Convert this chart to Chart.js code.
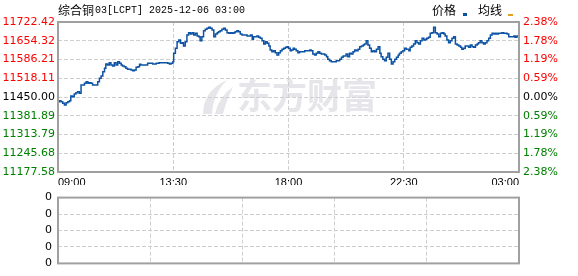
<!DOCTYPE html>
<html>
<head>
<meta charset="utf-8">
<script src="https://cdn.jsdelivr.net/npm/chart.js@4/dist/chart.umd.min.js"></script>
<style>
  body { margin: 0; background: #fff; }
  #wrap { position: relative; width: 578px; height: 276px; }
  canvas { position: absolute; left: 0; }
  #main { top: 0; }
  #vol { top: 185px; }
</style>
</head>
<body>
<div id="wrap">
  <canvas id="main" width="578" height="195"></canvas>
  <canvas id="vol" width="578" height="91"></canvas>
</div>
<script>
// axis labels
const timeTicks = [0, 270, 540, 810, 1080];
const timeLabels = ['09:00', '13:30', '18:00', '22:30', '03:00'];
const priceTicks = [11722.42, 11654.32, 11586.21, 11518.11, 11450.00, 11381.89, 11313.79, 11245.68, 11177.58];
const pctLabels = ['2.38%', '1.78%', '1.19%', '0.59%', '0.00%', '0.59%', '1.19%', '1.78%', '2.38%'];
const prevClose = 11450.00;
const volTicks = [0, 1, 2, 3, 4];

// minutes after 09:00, price
const minutes = [
  0, 3, 7, 11, 15, 19, 23, 27, 30, 34, 38, 42, 46, 50, 54, 58, 62, 66, 70, 73,
  77, 81, 85, 89, 93, 97, 101, 105, 109, 112, 116, 120, 124, 128, 132, 136, 140, 144, 148, 151,
  155, 159, 163, 167, 171, 175, 179, 183, 187, 191, 194, 198, 206, 210, 218, 222, 230, 237, 245, 253,
  257, 261, 265, 269, 271, 275, 279, 283, 287, 291, 294, 298, 302, 306, 310, 314, 318, 322, 326, 330,
  333, 337, 341, 345, 349, 353, 357, 361, 365, 369, 373, 376, 380, 384, 388, 392, 396, 400, 404, 408,
  412, 415, 419, 423, 427, 431, 435, 439, 443, 447, 451, 455, 458, 462, 466, 470, 474, 478, 482, 486,
  490, 494, 497, 501, 505, 509, 513, 517, 521, 525, 529, 533, 537, 540, 544, 547, 551, 554, 558, 562,
  566, 570, 574, 578, 582, 586, 590, 593, 597, 601, 605, 609, 613, 617, 621, 625, 629, 632, 636, 640,
  644, 648, 652, 656, 660, 664, 668, 672, 675, 679, 683, 687, 691, 695, 699, 703, 707, 711, 715, 718,
  722, 726, 730, 734, 738, 742, 746, 750, 754, 757, 761, 765, 769, 773, 777, 781, 785, 789, 793, 797,
  800, 804, 808, 812, 816, 822, 825, 829, 833, 837, 841, 845, 849, 853, 857, 861, 864, 868, 872, 876,
  880, 884, 888, 892, 896, 900, 904, 907, 911, 915, 919, 923, 927, 931, 935, 939, 943, 946, 950, 954,
  958, 962, 966, 970, 974, 978, 982, 985, 989, 993, 997, 1001, 1005, 1009, 1013, 1017, 1021, 1025, 1028, 1032,
  1036, 1040, 1044, 1048, 1052, 1056, 1060, 1064, 1068, 1071, 1075, 1079
];
const prices = [
  11433.1, 11436.7, 11433.1, 11427.0, 11421.0, 11429.4, 11433.1, 11436.7, 11453.6, 11451.2, 11460.9, 11465.8, 11469.4, 11463.3, 11493.6, 11493.6, 11499.7, 11505.7, 11499.7, 11502.1,
  11499.7, 11493.6, 11493.6, 11493.6, 11505.7, 11517.8, 11526.3, 11542.0, 11554.1, 11569.9, 11566.2, 11574.7, 11566.2, 11562.6, 11574.7, 11566.2, 11578.4, 11572.3, 11566.2, 11562.6,
  11560.2, 11554.1, 11550.5, 11550.5, 11548.1, 11545.7, 11548.1, 11557.8, 11560.2, 11568.7, 11566.2, 11566.2, 11566.2, 11572.3, 11572.3, 11569.9, 11572.3, 11574.7, 11574.7, 11574.7,
  11572.3, 11569.9, 11572.3, 11578.4, 11608.6, 11626.8, 11651.0, 11657.1, 11644.9, 11647.4, 11635.3, 11651.0, 11675.2, 11683.7, 11678.8, 11683.7, 11675.2, 11681.3, 11671.6, 11669.2,
  11654.6, 11669.2, 11691.0, 11695.8, 11699.4, 11703.1, 11699.4, 11693.4, 11669.2, 11678.8, 11683.7, 11687.3, 11691.0, 11695.8, 11699.4, 11693.4, 11683.7, 11681.3, 11683.7, 11681.3,
  11683.7, 11687.3, 11691.0, 11687.3, 11678.8, 11675.2, 11675.2, 11675.2, 11671.6, 11671.6, 11675.2, 11659.5, 11669.2, 11669.2, 11671.6, 11666.7, 11663.1, 11654.6, 11642.5, 11651.0,
  11644.9, 11635.3, 11620.7, 11614.7, 11618.3, 11611.0, 11602.6, 11611.0, 11618.3, 11623.2, 11626.8, 11630.4, 11632.8, 11626.8, 11618.3, 11620.7, 11626.8, 11623.2, 11618.3, 11611.0,
  11614.7, 11614.7, 11614.7, 11618.3, 11618.3, 11618.3, 11620.7, 11618.3, 11606.2, 11602.6, 11608.6, 11614.7, 11608.6, 11606.2, 11606.2, 11602.6, 11596.5, 11586.8, 11582.0, 11578.4,
  11578.4, 11578.4, 11582.0, 11582.0, 11586.8, 11594.1, 11598.9, 11598.9, 11606.2, 11596.5, 11608.6, 11606.2, 11614.7, 11620.7, 11618.3, 11623.2, 11632.8, 11635.3, 11638.9, 11642.5,
  11654.6, 11638.9, 11626.8, 11614.7, 11618.3, 11614.7, 11623.2, 11632.8, 11608.6, 11596.5, 11586.8, 11582.0, 11594.1, 11608.6, 11586.8, 11569.9, 11578.4, 11586.8, 11594.1, 11602.6,
  11608.6, 11614.7, 11618.3, 11626.8, 11623.2, 11618.3, 11630.4, 11635.3, 11642.5, 11654.6, 11647.4, 11642.5, 11654.6, 11663.1, 11657.1, 11659.5, 11663.1, 11666.7, 11681.3, 11683.7,
  11703.1, 11683.7, 11678.8, 11669.2, 11681.3, 11683.7, 11678.8, 11671.6, 11657.1, 11647.4, 11654.6, 11663.1, 11669.2, 11642.5, 11638.9, 11635.3, 11630.4, 11623.2, 11626.8, 11635.3,
  11635.3, 11630.4, 11638.9, 11632.8, 11630.4, 11638.9, 11642.5, 11647.4, 11654.6, 11647.4, 11642.5, 11647.4, 11654.6, 11663.1, 11675.2, 11681.3, 11678.8, 11681.3, 11678.8, 11681.3,
  11681.3, 11683.7, 11681.3, 11681.3, 11678.8, 11669.2, 11669.2, 11669.2, 11671.6, 11666.7, 11671.6, 11669.2
];

const GRID = '#cfcfcf';
const FRAME = '#a0a0a0';
const tickFont = { family: 'DejaVu Sans', size: 11 };

function fixWidth(w) { return function (scale) { scale.width = w; }; }

// white bg, watermark under the grid, frame + title/legend on top
const decor = {
  id: 'decor',
  beforeDraw(chart, args, opts) {
    const c = chart.ctx;
    c.save();
    c.fillStyle = '#fff';
    c.fillRect(0, 0, chart.width, chart.height);
    if (opts.watermark) {
      c.fillStyle = '#e6e6ea';
      c.beginPath();
      c.moveTo(203, 114);
      c.quadraticCurveTo(203, 91, 227, 80);
      c.quadraticCurveTo(213, 94, 212, 114);
      c.closePath();
      c.fill();
      c.beginPath();
      c.moveTo(215, 114);
      c.quadraticCurveTo(219, 96, 233, 87);
      c.quadraticCurveTo(226, 101, 223, 114);
      c.closePath();
      c.fill();
      c.font = 'bold 35px "Noto Sans CJK SC"';
      c.textBaseline = 'middle';
      c.fillText('东方财富', 237, 96);
    }
    c.restore();
  },
  afterDraw(chart, args, opts) {
    const c = chart.ctx;
    const a = chart.chartArea;
    c.save();
    c.strokeStyle = FRAME;
    c.lineWidth = 2;
    c.strokeRect(a.left, a.top, a.right - a.left, a.bottom - a.top);
    if (opts.header) {
      c.fillStyle = '#000';
      c.textBaseline = 'middle';
      c.font = '12px "Noto Sans CJK SC"';
      c.fillText('综合铜', 58, 10);
      c.font = '10px "Liberation Mono"';
      c.fillText('03[LCPT] 2025-12-06 03:00', 95, 10);
      c.font = '12px "Noto Sans CJK SC"';
      c.fillText('价格', 432, 10);
      c.fillText('均线', 478, 10);
      c.fillStyle = '#0d52a3';
      c.fillRect(463, 13, 4, 3);
      c.fillStyle = '#e0a020';
      c.fillRect(508, 14, 5, 2);
    }
    c.restore();
  }
};

function priceColor(v, i) {
  if (Math.abs(v - prevClose) < 0.01) return '#000';
  return v > prevClose ? '#ff0000' : '#008000';
}

new Chart(document.getElementById('main'), {
  type: 'line',
  data: {
    datasets: [{
      label: '价格',
      data: minutes.map((m, i) => ({ x: m, y: prices[i] })),
      borderColor: '#0d52a3',
      borderWidth: 1.5,
      pointRadius: 0,
      stepped: true,
      yAxisID: 'y'
    }]
  },
  options: {
    responsive: false,
    animation: false,
    layout: { padding: { top: 22, left: 0, right: 0, bottom: 0 } },
    plugins: {
      legend: { display: false },
      tooltip: { enabled: false },
      decor: { watermark: true, header: true }
    },
    scales: {
      x: {
        type: 'linear',
        min: 0,
        max: 1080,
        afterBuildTicks: s => { s.ticks = timeTicks.map(v => ({ value: v })); },
        afterFit: s => { s.height = 23; },
        grid: { color: GRID, drawTicks: false },
        border: { display: false, dash: [4, 2] },
        ticks: {
          autoSkip: false,
          maxRotation: 0,
          align: 'inner',
          padding: 4,
          color: '#000',
          font: { family: 'Liberation Sans', size: 11 },
          callback: v => timeLabels[timeTicks.indexOf(v)]
        }
      },
      y: {
        position: 'left',
        min: priceTicks[priceTicks.length - 1],
        max: priceTicks[0],
        afterBuildTicks: s => { s.ticks = priceTicks.map(v => ({ value: v })); },
        afterFit: fixWidth(58),
        grid: { color: GRID, drawTicks: false },
        border: { display: false, dash: [4, 2] },
        ticks: {
          autoSkip: false,
          padding: 3,
          font: tickFont,
          color: c => priceColor(c.tick.value),
          callback: v => v.toFixed(2)
        }
      },
      y2: {
        position: 'right',
        min: priceTicks[priceTicks.length - 1],
        max: priceTicks[0],
        afterBuildTicks: s => { s.ticks = priceTicks.map(v => ({ value: v })); },
        afterFit: fixWidth(59),
        grid: { display: false, drawTicks: false },
        border: { display: false },
        ticks: {
          autoSkip: false,
          padding: 4,
          font: tickFont,
          color: c => priceColor(c.tick.value),
          callback: v => pctLabels[priceTicks.indexOf(v)]
        }
      }
    }
  },
  plugins: [decor]
});

new Chart(document.getElementById('vol'), {
  type: 'bar',
  data: {
    datasets: [{ label: '成交量', data: [], backgroundColor: '#0d52a3' }]
  },
  options: {
    responsive: false,
    animation: false,
    layout: { padding: { top: 12, left: 0, right: 59, bottom: 6 } },
    plugins: {
      legend: { display: false },
      tooltip: { enabled: false },
      decor: { watermark: false, header: false }
    },
    scales: {
      x: {
        type: 'linear',
        min: 0,
        max: 1080,
        afterBuildTicks: s => { s.ticks = timeTicks.map(v => ({ value: v })); },
        afterFit: s => { s.height = 0; },
        grid: { color: GRID, drawTicks: false },
        border: { display: false, dash: [4, 2] },
        ticks: { display: false }
      },
      y: {
        min: 0,
        max: 4,
        afterBuildTicks: s => { s.ticks = volTicks.map(v => ({ value: v })); },
        afterFit: fixWidth(58),
        grid: { color: GRID, drawTicks: false },
        border: { display: false, dash: [4, 2] },
        ticks: {
          autoSkip: false,
          padding: 6,
          font: tickFont,
          color: '#000',
          callback: () => '0'
        }
      }
    }
  },
  plugins: [decor]
});
</script>
</body>
</html>
